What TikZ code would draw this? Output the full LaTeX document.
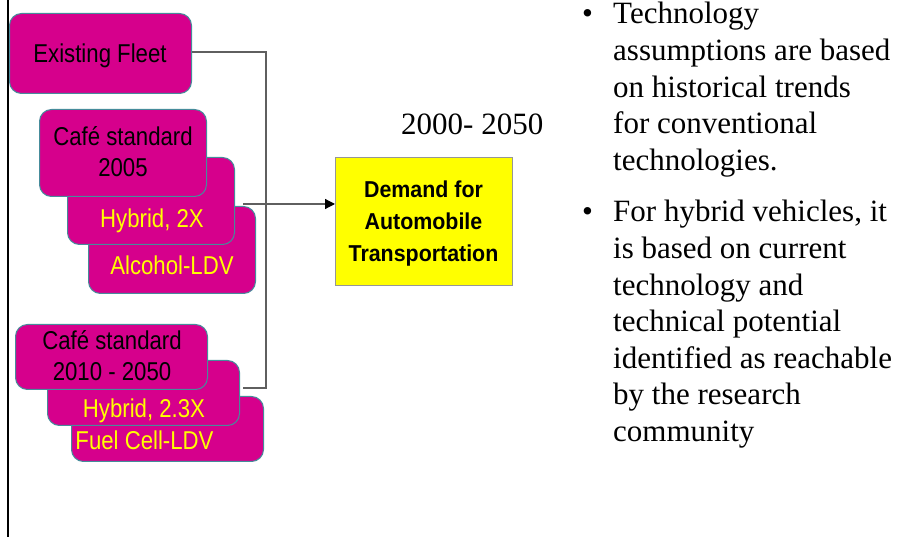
\documentclass[tikz,border=0pt]{standalone}
\usepackage{fontspec}
\setmainfont{Liberation Serif}
\newfontfamily\narrowsans[FakeStretch=0.86]{Liberation Sans}
\newfontfamily\demandsans[FakeStretch=0.93]{Liberation Sans}
\usetikzlibrary{arrows.meta}
\definecolor{fleetpink}{RGB}{214,0,140}
\definecolor{edgeteal}{RGB}{70,140,155}
\definecolor{labelyellow}{RGB}{255,255,0}
\definecolor{wiregray}{RGB}{95,95,95}
\definecolor{boxgray}{RGB}{150,150,150}
\tikzset{
  fleetbox/.style={draw=edgeteal, line width=1pt, fill=fleetpink,
    rounded corners=12pt, inner sep=0pt, anchor=north west},
  darklabel/.style={font=\narrowsans\fontsize{25.8}{31}\selectfont,
    text=black, inner sep=0pt, anchor=base},
  brightlabel/.style={darklabel, text=labelyellow},
  demandbox/.style={draw=boxgray, line width=1pt, fill=labelyellow,
    inner sep=0pt, anchor=north west},
  demandtext/.style={font=\demandsans\bfseries\fontsize{23}{32}\selectfont,
    inner sep=0pt, anchor=base},
  wire/.style={draw=wiregray, line width=1.2pt},
  feedtip/.style={-{Triangle[length=10pt,width=10pt,color=black,fill=black]}},
  bodytext/.style={font=\fontsize{31}{36.6}\selectfont, inner sep=0pt,
    anchor=base west},
}
\begin{document}
\begin{tikzpicture}[x=1pt, y=-1pt]
\useasboundingbox (0,0) rectangle (906,537);

% frame rule on the left
\draw[line width=2pt] (8,0) -- (8,537);

% existing fleet
\node[fleetbox, minimum width=182pt, minimum height=80pt] (ef) at (9,13) {};
\node[darklabel] (eftext) at (100,63) {Existing Fleet};

% first stack: 2005 standards
\node[fleetbox, minimum width=167pt, minimum height=87pt] (al) at (88,206) {};
\node[fleetbox, minimum width=167pt, minimum height=87pt] (hy) at (67,157) {};
\node[fleetbox, minimum width=167pt, minimum height=87pt] (cs) at (39,109) {};
\node[darklabel] (cstext) at (123,146)
  {\begin{tabular}[t]{@{}c@{}}Café standard\\2005\end{tabular}};
\node[brightlabel] (hytext) at (152,228) {Hybrid, 2X};
\node[brightlabel] (altext) at (172,275) {Alcohol-LDV};

% second stack: 2010--2050 standards
\node[fleetbox, minimum width=192pt, minimum height=65pt] (fc) at (71,396) {};
\node[fleetbox, minimum width=192pt, minimum height=65pt] (hz) at (47,360) {};
\node[fleetbox, minimum width=192pt, minimum height=65pt] (ct) at (15,324) {};
\node[darklabel] (cttext) at (112,350)
  {\begin{tabular}[t]{@{}c@{}}Café standard\\2010 - 2050\end{tabular}};
\node[brightlabel] (hztext) at (144,418) {Hybrid, 2.3X};
\node[brightlabel] (fctext) at (144.5,450) {Fuel Cell-LDV};

% demand
\node[demandbox, minimum width=177pt, minimum height=128pt] (dm) at (335,157) {};
\node[demandtext] (dmtext) at (423.5,198)
  {\begin{tabular}[t]{@{}c@{}}Demand for\\Automobile\\Transportation\end{tabular}};
\node[font=\fontsize{31}{36}\selectfont, inner sep=0pt, anchor=base west]
  (period) at (401,135) {2000- 2050};

% connectors
\coordinate (elbowtop) at (266,52);
\coordinate (elbowbot) at (266,388);
\coordinate (taillow) at (243,388);
\coordinate (tailmid) at (243,204);
\draw[wire] (ef.east |- elbowtop) -- (elbowtop) -- (elbowbot) -- (taillow);
\draw[wire, feedtip] (tailmid) -- (dm.west |- tailmid);

% notes
\node[bodytext] (dotone) at (582,24) {\textbullet};
\node[bodytext] (noteone) at (613,24)
  {\begin{tabular}[t]{@{}l@{}}Technology\\assumptions are based\\on historical trends\\for conventional\\technologies.\end{tabular}};
\node[bodytext] (dottwo) at (582,222) {\textbullet};
\node[bodytext] (notetwo) at (613,222)
  {\begin{tabular}[t]{@{}l@{}}For hybrid vehicles, it\\is based on current\\technology and\\technical potential\\identified as reachable\\by the research\\community\end{tabular}};
\end{tikzpicture}
\end{document}
